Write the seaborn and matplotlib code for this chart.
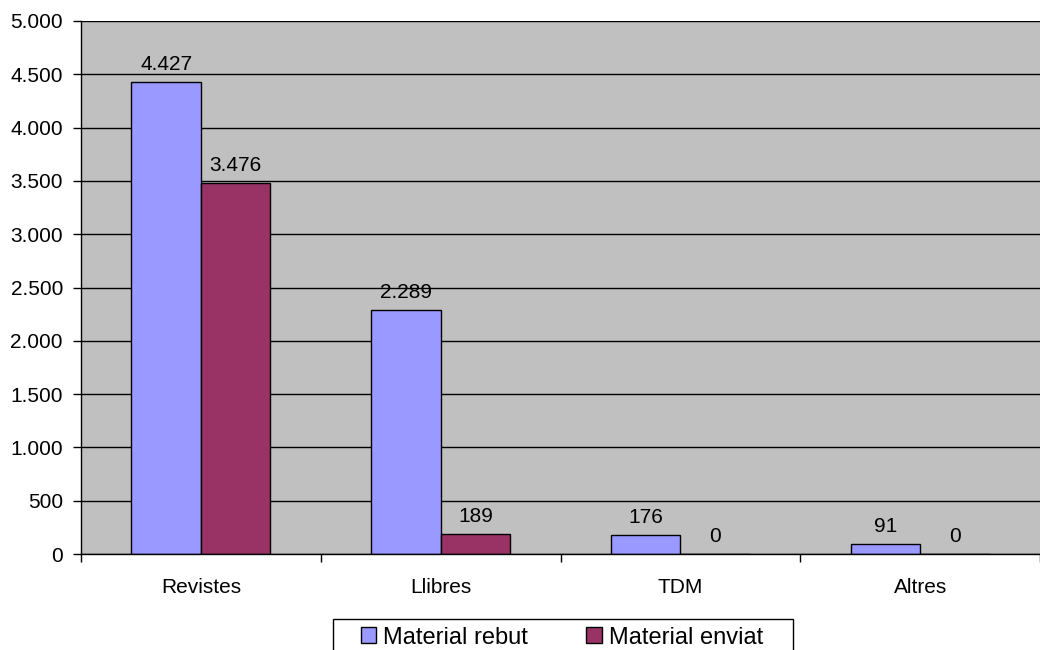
import numpy as np
import pandas as pd
import seaborn as sns
import matplotlib
matplotlib.use('Agg')
from matplotlib import pyplot as plt
from matplotlib.patches import Rectangle
from matplotlib.ticker import FuncFormatter, FixedLocator

categories = ['Revistes', 'Llibres', 'TDM', 'Altres']
rebut = [4427, 2289, 176, 91]
enviat = [3476, 189, 0, 0]
series_names = ['Material rebut', 'Material enviat']
colors = ['#9999FF', '#993366']

df = pd.DataFrame({
	'cat': categories * 2,
	'val': rebut + enviat,
	'serie': [series_names[0]] * 4 + [series_names[1]] * 4,
})

sns.set_style('white')
plt.rcParams['font.family'] = ['Liberation Sans', 'DejaVu Sans']
plt.rcParams['text.color'] = 'black'
plt.rcParams['xtick.color'] = 'black'
plt.rcParams['ytick.color'] = 'black'

W, H = 1040, 650
fig = plt.figure(figsize=(W / 100, H / 100), dpi=100)
ax = fig.add_axes([81/W, 1 - 554/H, 1 - 81/W, (554 - 21)/H])
ax.set_facecolor('#C0C0C0')

sns.barplot(data=df, x='cat', y='val', hue='serie', palette=colors, width=0.58,
	edgecolor='black', linewidth=1, saturation=1, ax=ax, legend=False)

def dots(v, pos=None):
	return f'{int(round(v)):,}'.replace(',', '.')

for cont in ax.containers:
	ax.bar_label(cont, labels=[dots(b.get_height()) for b in cont], padding=6, fontsize=15, color='black')

ax.set_ylim(0, 5000)
ax.set_xlim(-0.5, 3.5)
ax.set_yticks(np.arange(0, 5001, 500))
ax.yaxis.set_major_formatter(FuncFormatter(dots))
ax.yaxis.grid(True, color='black', linewidth=1)
ax.set_axisbelow(True)
ax.tick_params(axis='y', left=True, length=6, width=1, color='black', labelcolor='black', labelsize=15, pad=7)
ax.tick_params(axis='x', bottom=False, labelcolor='black', labelsize=15, pad=14)
ax.xaxis.set_minor_locator(FixedLocator([-0.5, 0.5, 1.5, 2.5, 3.5]))
ax.tick_params(axis='x', which='minor', bottom=True, length=6, width=1, color='black')
ax.set_xlabel('')
ax.set_ylabel('')
for s in ['top', 'right']:
	ax.spines[s].set_visible(False)
for s in ['left', 'bottom']:
	ax.spines[s].set_color('black')
	ax.spines[s].set_linewidth(1)

# legend box drawn separately, Excel style
handles = [Rectangle((0, 0), 1, 1, facecolor=c, edgecolor='black', linewidth=1) for c in colors]
leg = fig.legend(handles, series_names, loc='center left', bbox_to_anchor=(361/W, 1 - 637.5/H),
	ncol=2, fontsize=17, frameon=False, borderpad=0, borderaxespad=0,
	handlelength=0.65, handleheight=0.65, handletextpad=0.3, columnspacing=2.45)
fig.patches.append(Rectangle((333/W, -0.05), 460/W, 0.05 + (H - 619)/H, transform=fig.transFigure,
	fill=False, edgecolor='black', linewidth=1))

fig.savefig('out.png', dpi=100)
